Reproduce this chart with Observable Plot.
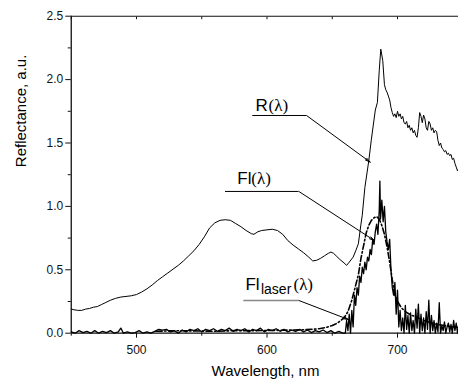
<!DOCTYPE html>
<html><head><meta charset="utf-8">
<script src="https://cdn.jsdelivr.net/npm/d3@7"></script>
<script src="https://cdn.jsdelivr.net/npm/@observablehq/plot@0.6"></script>
<style>body{margin:0;background:#fff;overflow:hidden}</style>
</head><body><div id="chart"></div>
<script>
// Reflectance R(λ)
const rWl = [450,452,455,458,461,464,467,470,473,476,480,484,488,492,496,500,504,508,512,516,520,524,528,532,536,540,544,548,552,556,560,564,568,572,576,580,584,588,590,593,596,600,604,608,612,616,620,624,628,632,635,638,641,644,647,649,651,653,656,659,661,663,666,668,670,672,673,675,678,680,683,684.6,686,687.2,688.7,690,691,692,693,694,695,696,697,698,699,700,701,702,703,704,705,706,707,708,709,710,711,712,713,714,715,716,717,718,719,720,721,722,723,724,725,726,727,728,729,730,731,732,733,734,735,736,737,738,739,740,741,742,743,744,745,746,747,748,749,750];
const rVal = [0.19,0.185,0.18,0.18,0.19,0.195,0.205,0.21,0.225,0.24,0.26,0.275,0.285,0.29,0.295,0.305,0.325,0.35,0.38,0.415,0.445,0.475,0.505,0.535,0.57,0.61,0.65,0.70,0.76,0.83,0.87,0.89,0.895,0.89,0.865,0.84,0.81,0.785,0.78,0.80,0.81,0.815,0.82,0.81,0.78,0.73,0.695,0.665,0.635,0.60,0.57,0.575,0.59,0.61,0.63,0.64,0.63,0.61,0.58,0.555,0.535,0.56,0.60,0.65,0.705,0.86,0.93,1.15,1.36,1.53,1.76,1.82,2.07,2.24,2.15,1.96,1.92,1.90,1.87,1.84,1.78,1.74,1.71,1.73,1.70,1.75,1.71,1.73,1.69,1.71,1.66,1.65,1.67,1.62,1.64,1.60,1.62,1.58,1.60,1.56,1.545,1.62,1.74,1.71,1.66,1.72,1.69,1.62,1.60,1.67,1.65,1.60,1.62,1.58,1.60,1.59,1.52,1.48,1.50,1.46,1.45,1.43,1.44,1.41,1.42,1.40,1.41,1.37,1.38,1.34,1.31,1.28,1.30,1.27,1.26,1.25];

// Fluorescence Fl(λ) (dash-dot)
const flWl = [515,530,545,560,575,590,605,620,630,640,645,650,653,656,659,662,665,668,670,672,674,676,678,680,682,684,686,688,690,692,694,696,698,700,703,706,710,715,720,725,730,736,742,750];
const flVal = [0.015,0.02,0.018,0.015,0.02,0.02,0.022,0.025,0.028,0.035,0.045,0.06,0.075,0.095,0.12,0.17,0.26,0.38,0.46,0.59,0.69,0.79,0.85,0.89,0.91,0.92,0.90,0.85,0.78,0.68,0.56,0.42,0.30,0.25,0.20,0.17,0.145,0.125,0.10,0.085,0.07,0.06,0.05,0.045];

// Laser-induced fluorescence Fl_laser(λ) (noisy)
const flLaserWl = [450,453,456,459,462,465,468,471,474,477,480,483,486,488,490,493,496,499,502,505,508,511,514,517,520,523,526,529,532,535,538,541,544,547,550,553,556,559,562,565,568,571,574,577,580,583,586,589,592,595,598,601,604,607,610,613,616,619,622,625,628,631,634,637,640,643,646,649,652,655,658,660,661,662,663,664,665,666,667,668,669,670,671,672,673,674,675,676,677,678,679,680,681,682,683,684,685,686,686.5,687,688,689,690,691,692,693,694,695,696,697,698,699,700,701,702,703,704,705,706,707,708,709,710,711,712,713,714,715,716,717,718,719,720,721,722,723,724,725,726,727,728,729,730,731,732,733,734,735,736,737,738,739,740,741,742,743,744,745,746,747,748,749,750];
const flLaserVal = [0.01,0.0,0.02,0.005,0.015,0.0,0.02,0.0,0.015,0.005,0.02,0.0,0.01,0.04,0.0,0.01,0.0,0.005,0.02,0.0,0.01,0.0,0.015,0.03,0.025,0.03,0.01,0.02,0.0,0.025,0.01,0.03,0.02,0.035,0.01,0.03,0.02,0.035,0.015,0.03,0.02,0.04,0.015,0.03,0.02,0.035,0.01,0.03,0.02,0.04,0.01,0.03,0.02,0.035,0.015,0.03,0.01,0.025,0.015,0.03,0.01,0.025,0.005,0.02,0.01,0.025,0.005,0.02,0.0,0.015,0.0,0.0,0.10,0.02,0.15,0.0,0.18,0.05,0.30,0.22,0.36,0.30,0.45,0.40,0.52,0.47,0.56,0.50,0.60,0.57,0.66,0.62,0.74,0.70,0.80,0.86,0.78,0.97,1.20,0.90,1.05,0.88,1.00,0.80,0.72,0.66,0.74,0.50,0.36,0.30,0.40,0.15,0.34,0.05,0.18,0.02,0.12,0.0,0.22,0.03,0.14,0.0,0.16,0.02,0.10,0.0,0.19,0.04,0.23,0.0,0.15,0.02,0.12,0.0,0.17,0.03,0.26,0.0,0.14,0.02,0.10,0.0,0.08,0.01,0.24,0.0,0.06,0.02,0.09,0.0,0.05,0.08,0.01,0.07,0.0,0.10,0.02,0.08,0.0,0.06,0.01,0.07,0.02];

// Axis ticks
const xMajorTicks = [500,600,700];
const xMinorTicks = [450,550,650,750];
const xTopTicks = [450,500,550,600,650,700,750];
const yMajorTicks = [0,0.5,1.0,1.5,2.0,2.5];
const yMinorTicks = [0.25,0.75,1.25,1.75,2.25];

// Annotations (data coordinates)
const labelNames = ["R", "Fl", "Fl"];
const labelX = [591.2, 577.2, 583.5];
const labelY = [1.751, 1.173, 0.342];
const leaderX1 = [589.1, 568.2, 582.2];
const leaderX2 = [630.3, 624.4, 624.4];
const leaderY = [1.717, 1.118, 0.258];
const arrowTipX = [679.1, 682.4, 662.4];
const arrowTipY = [1.349, 0.730, 0.108];

const pts = (xs, ys) => xs.map((x, i) => ({x, y: ys[i]}));
const ann = labelNames.map((t, i) => ({t, x: labelX[i], y: labelY[i], x1: leaderX1[i], x2: leaderX2[i], ly: leaderY[i], tx: arrowTipX[i], ty: arrowTipY[i]}));
const fmt = d3.format(".1f");
const sans = "Liberation Sans, Arial, sans-serif";
const serif = "Liberation Serif, Times New Roman, serif";

const chart = Plot.plot({
  width: 458, height: 379,
  marginLeft: 70.75, marginRight: -4.25, marginTop: 15.7, marginBottom: 46.3,
  style: {fontFamily: sans, fontSize: "12px", background: "white", color: "#111"},
  x: {domain: [450, 750]},
  y: {domain: [0, 2.5]},
  marks: [
    Plot.axisX(xMajorTicks, {anchor: "bottom", tickSize: 5, tickPadding: 7, label: null, fontSize: 12}),
    Plot.axisX(xMinorTicks, {anchor: "bottom", tickSize: 3, tickFormat: () => "", label: null}),
    Plot.axisX(xTopTicks, {anchor: "top", tickSize: -2.5, tickFormat: () => "", label: null}),
    Plot.axisY(yMajorTicks, {anchor: "left", tickSize: 5.5, tickPadding: 2.5, tickFormat: fmt, label: null, fontSize: 12}),
    Plot.axisY(yMinorTicks, {anchor: "left", tickSize: 3, tickFormat: () => "", label: null}),
    Plot.ruleX([450], {strokeWidth: 1.3}),
    Plot.ruleY([0], {strokeWidth: 1.3}),
    Plot.ruleY([2.5], {strokeWidth: 1.1}),
    // curves
    Plot.line(pts(flWl, flVal), {x: "x", y: "y", stroke: "black", strokeWidth: 1.6, strokeDasharray: "6,2.5,1.5,2.5"}),
    Plot.line(pts(flLaserWl, flLaserVal), {x: "x", y: "y", stroke: "black", strokeWidth: 1.3}),
    Plot.line(pts(rWl, rVal), {x: "x", y: "y", stroke: "black", strokeWidth: 1}),
    // leaders
    Plot.ruleY(ann, {y: "ly", x1: "x1", x2: "x2", stroke: (d, i) => i === 2 ? "#888" : "black", strokeWidth: (d, i) => i === 2 ? 1.6 : 1}),
    Plot.arrow(ann, {x1: "x2", y1: "ly", x2: "tx", y2: "ty", stroke: "black", strokeWidth: 1, headLength: 8, headAngle: 24}),
    // labels
    Plot.text(ann, {x: "x", y: "y", text: "t", textAnchor: "start", lineAnchor: "bottom", fontSize: 17, fontFamily: sans, fill: "black"}),
    Plot.text([ann[0]], {x: "x", y: "y", text: () => "(λ)", dx: 13, textAnchor: "start", lineAnchor: "bottom", fontSize: 17, fontFamily: serif, fill: "black"}),
    Plot.text([ann[1]], {x: "x", y: "y", text: () => "(λ)", dx: 14, textAnchor: "start", lineAnchor: "bottom", fontSize: 17, fontFamily: serif, fill: "black"}),
    Plot.text([ann[2]], {x: "x", y: "y", text: () => "laser", dx: 15.5, dy: 4, textAnchor: "start", lineAnchor: "bottom", fontSize: 14, fontFamily: sans, fill: "black"}),
    Plot.text([ann[2]], {x: "x", y: "y", text: () => "(λ)", dx: 48, textAnchor: "start", lineAnchor: "bottom", fontSize: 17, fontFamily: serif, fill: "black"}),
    // axis titles
    Plot.text(["Wavelength, nm"], {frameAnchor: "bottom", text: d => d, dy: 42.6, dx: -1.5, lineAnchor: "bottom", fontSize: 15, fontFamily: sans, fill: "black"}),
    Plot.text(["Reflectance, a.u."], {frameAnchor: "left", text: d => d, rotate: -90, dx: -45.75, dy: -7.5, lineAnchor: "bottom", fontSize: 15, fontFamily: sans, fill: "black"})
  ]
});
document.getElementById("chart").append(chart);
</script>
</body></html>
